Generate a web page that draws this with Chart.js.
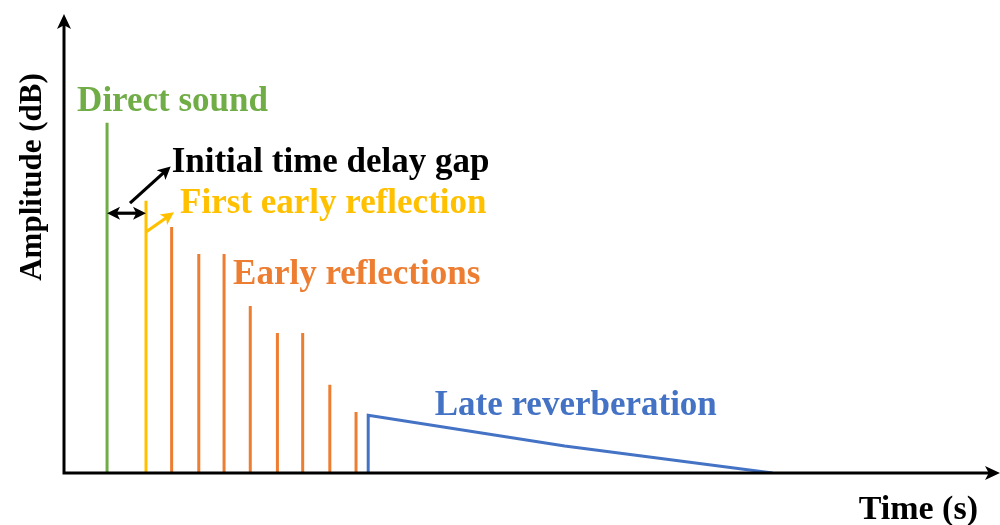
<!DOCTYPE html>
<html><head><meta charset="utf-8">
<script src="https://cdn.jsdelivr.net/npm/chart.js@4/dist/chart.umd.min.js"></script>
<style>html,body{margin:0;padding:0;background:#fff}#wrap{width:1000px;height:525px}</style>
</head><body><div id="wrap"><canvas id="c" width="1000" height="525"></canvas></div>
<script>
// ---- data (arbitrary time / amplitude units) ----
const directTimes = [4.6];
const directAmps  = [76.3];
const firstTimes  = [8.76];
const firstAmps   = [59.3];
const earlyTimes  = [11.5, 14.4, 17.1, 19.9, 22.8, 25.5, 28.4, 31.2];
const earlyAmps   = [53.6, 47.7, 47.7, 36.4, 30.5, 30.5, 19.2, 13.3];
const lateTimes   = [32.5, 32.5, 53.5, 75.7];
const lateAmps    = [0, 12.6, 5.9, 0];
const labelTexts  = ["Direct sound", "Initial time delay gap", "First early reflection", "Early reflections", "Late reverberation"];
const axisTitles  = ["Time (s)", "Amplitude (dB)"];

const GREEN = '#70AD47', YELLOW = '#FFC000', ORANGE = '#ED7D31', BLUE = '#4472C4';

function spikes(times, amps) {
  const pts = [];
  times.forEach((t, i) => { pts.push({x: t, y: 0}, {x: t, y: amps[i]}, {x: t, y: null}); });
  return pts;
}
function line(times, amps) { return times.map((t, i) => ({x: t, y: amps[i]})); }

function ds(data, color) {
  return {data, borderColor: color, backgroundColor: color, borderWidth: 3, pointRadius: 0,
          spanGaps: false, tension: 0, borderCapStyle: 'butt', borderJoinStyle: 'miter', fill: false};
}

function arrowHead(ctx, x1, y1, x2, y2, len, half) {
  const a = Math.atan2(y2 - y1, x2 - x1);
  const c = Math.cos(a), s = Math.sin(a);
  ctx.beginPath();
  ctx.moveTo(x2, y2);
  ctx.lineTo(x2 - len * c + half * s, y2 - len * s - half * c);
  ctx.lineTo(x2 - len * 0.75 * c, y2 - len * 0.75 * s);
  ctx.lineTo(x2 - len * c - half * s, y2 - len * s + half * c);
  ctx.closePath();
  ctx.fill();
}
function arrow(ctx, x1, y1, x2, y2, color, both) {
  const len = 13, half = 6.5;
  const a = Math.atan2(y2 - y1, x2 - x1);
  ctx.save();
  ctx.strokeStyle = color; ctx.fillStyle = color; ctx.lineWidth = 3.2;
  const sx = both ? x1 + (len - 4) * Math.cos(a) : x1, sy = both ? y1 + (len - 4) * Math.sin(a) : y1;
  ctx.beginPath();
  ctx.moveTo(sx, sy);
  ctx.lineTo(x2 - (len - 4) * Math.cos(a), y2 - (len - 4) * Math.sin(a));
  ctx.stroke();
  arrowHead(ctx, x1, y1, x2, y2, len, half);
  if (both) arrowHead(ctx, x2, y2, x1, y1, len, half);
  ctx.restore();
}

const annotate = {
  id: 'annotate',
  afterDatasetsDraw(chart) {
    const ctx = chart.ctx, xs = chart.scales.x, ys = chart.scales.y, ca = chart.chartArea;
    const X = v => xs.getPixelForValue(v), Y = v => ys.getPixelForValue(v);
    // axes with arrows
    ctx.save();
    ctx.strokeStyle = '#000'; ctx.fillStyle = '#000'; ctx.lineWidth = 3;
    ctx.beginPath();
    ctx.moveTo(ca.left, ca.bottom + 1.5); ctx.lineTo(ca.left, ca.top + 10);
    ctx.moveTo(ca.left - 1.5, ca.bottom); ctx.lineTo(ca.right - 10, ca.bottom);
    ctx.stroke();
    arrowHead(ctx, ca.left, ca.bottom, ca.left, ca.top, 15, 7);
    arrowHead(ctx, ca.left, ca.bottom, ca.right, ca.bottom, 15, 7);
    ctx.restore();

    // arrows
    const gapY = 56.6;
    arrow(ctx, X(directTimes[0]), Y(gapY), X(firstTimes[0]), Y(gapY), '#000', true);
    arrow(ctx, X(7.05), Y(58.8), X(11.4), Y(66.8), '#000', false);
    arrow(ctx, X(firstTimes[0]), Y(52.5), X(11.75), Y(56.8), YELLOW, false);

    // text labels
    ctx.save();
    ctx.font = 'bold 35px "Liberation Serif", "Times New Roman", serif';
    ctx.textAlign = 'left'; ctx.textBaseline = 'alphabetic';
    const lbl = [[labelTexts[0], 1.4, 78.9, GREEN], [labelTexts[1], 11.5, 65.6, '#000'],
                 [labelTexts[2], 12.4, 56.6, YELLOW], [labelTexts[3], 18.06, 41.2, ORANGE],
                 [labelTexts[4], 39.6, 12.6, BLUE]];
    lbl.forEach(([t, x, y, c]) => { ctx.fillStyle = c; ctx.fillText(t, X(x), Y(y)); });
    ctx.fillStyle = '#000';
    ctx.font = 'bold 34px "Liberation Serif", "Times New Roman", serif';
    ctx.textAlign = 'right';
    ctx.fillText(axisTitles[0], ca.right - 22, ca.bottom + 46);
    ctx.translate(ca.left - 23, ca.bottom - 296);
    ctx.rotate(-Math.PI / 2);
    ctx.font = 'bold 31px "Liberation Serif", "Times New Roman", serif';
    ctx.textAlign = 'center';
    ctx.fillText(axisTitles[1], 0, 0);
    ctx.restore();
  }
};

new Chart(document.getElementById('c'), {
  type: 'line',
  data: {
    datasets: [
      ds(spikes(directTimes, directAmps), GREEN),
      ds(spikes(firstTimes, firstAmps), YELLOW),
      ds(spikes(earlyTimes, earlyAmps), ORANGE),
      ds(line(lateTimes, lateAmps), BLUE)
    ]
  },
  options: {
    responsive: false, animation: false, devicePixelRatio: 1,
    layout: {padding: {left: 64, right: 0, top: 14, bottom: 52}},
    plugins: {legend: {display: false}, tooltip: {enabled: false}},
    scales: {
      x: {type: 'linear', min: 0, max: 100, display: false},
      y: {type: 'linear', min: 0, max: 100, display: false}
    }
  },
  plugins: [annotate]
});
</script></body></html>
